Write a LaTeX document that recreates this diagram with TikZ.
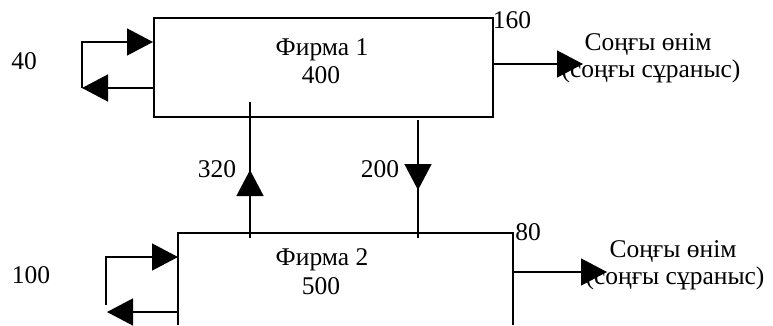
\documentclass[tikz,border=0pt]{standalone}
\usepackage{fontspec}
\setmainfont{Liberation Serif}
\usetikzlibrary{arrows.meta}
\begin{document}
\begin{tikzpicture}[x=1pt,y=-1pt,
  boxline/.style={line width=1.8pt},
  conn/.style={line width=1.4pt},
  tip/.style={-{Triangle[length=26pt,width=27pt]}},
  lbl/.style={inner sep=0pt,anchor=base,font=\fontsize{25.5}{28}\selectfont}]
\useasboundingbox (0,0) rectangle (773,325);
% Firm 1 box
\node[draw,boxline,minimum width=339pt,minimum height=99pt,inner sep=0pt,anchor=north west] (f1) at (153,17) {};
% Firm 2 box (open at the bottom)
\coordinate (f2nw) at (178,233);
\coordinate (f2ne) at (513,233);
\draw[boxline] (178,325) -- (f2nw) -- (f2ne) -- (513,325);
% texts
\node[lbl] (t1a) at (322,55) {Фирма 1};
\node[lbl] (t1b) at (321,83) {400};
\node[lbl] (t2a) at (322,265) {Фирма 2};
\node[lbl] (t2b) at (321,294) {500};
\node[lbl] (n40) at (24,69) {40};
\node[lbl] (n100) at (31,283) {100};
\node[lbl] (n160) at (512,28) {160};
\node[lbl] (n80) at (528,240) {80};
\node[lbl] (n320) at (217,177) {320};
\node[lbl] (n200) at (380,177) {200};
\node[lbl] (p1a) at (648,50) {Соңғы өнім};
\node[lbl] (p1b) at (651,77) {(соңғы сұраныс)};
\node[lbl] (p2a) at (673,257) {Соңғы өнім};
\node[lbl] (p2b) at (675,284) {(соңғы сұраныс)};
% loop of firm 1
\coordinate (l1a) at (82,42);
\coordinate (l1b) at (82,88);
\draw[conn,tip] (l1b) -- (l1a) -- (l1a -| f1.west);
\draw[conn,tip] (l1b -| f1.west) -- (l1b);
% loop of firm 2
\coordinate (l2a) at (106,257);
\coordinate (l2b) at (106,305);
\coordinate (l2c) at (107,312);
\draw[conn,tip] (l2b) -- (l2a) -- (l2a -| f2nw);
\draw[conn,tip] (l2c -| f2nw) -- (l2c);
% flows between firms
\coordinate (u1) at (250,238);
\coordinate (u2) at (250,102);
\coordinate (ub) at (250,196);
\coordinate (ut) at (250,170);
\draw[conn] (u1) -- (u2);
\draw[conn,tip] (ub) -- (ut);
\coordinate (d1) at (418,120);
\coordinate (d2) at (418,238);
\coordinate (db) at (418,164);
\coordinate (dt) at (418,190);
\draw[conn] (d1) -- (d2);
\draw[conn,tip] (db) -- (dt);
% final output
\coordinate (o1) at (583,64);
\draw[conn,tip] (o1 -| f1.east) -- (o1);
\coordinate (o2) at (607,272);
\draw[conn,tip] (o2 -| f2ne) -- (o2);
\end{tikzpicture}
\end{document}
